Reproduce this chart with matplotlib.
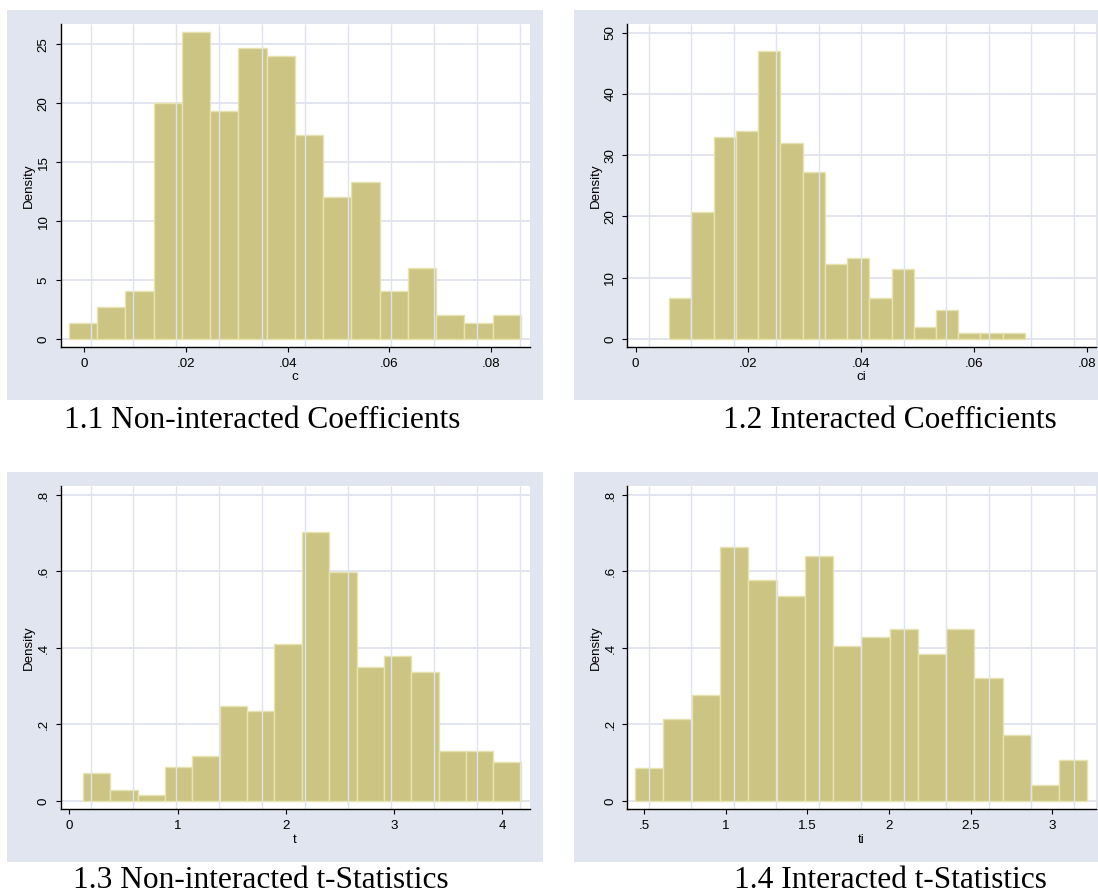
import matplotlib
matplotlib.use("Agg")
import matplotlib.pyplot as plt
from matplotlib.patches import Rectangle
import numpy as np

plt.rcParams['font.family'] = ['Liberation Sans', 'DejaVu Sans']

###  DATA  ###

# non-interacted coefficients (c)
c_lo, c_hi = -0.00303, 0.08586
c_dens = [1.36, 2.71, 4.07, 19.99, 26.02, 19.34, 24.66, 23.98,
          17.34, 12.02, 13.35, 4.07, 6.0, 2.04, 1.36, 2.04]

# interacted coefficients (ci)
ci_lo, ci_hi = 0.00596, 0.06899
ci_dens = [6.64, 20.78, 32.97, 33.9, 47.06, 31.94, 27.31, 12.24,
           13.17, 6.64, 11.37, 1.9, 4.73, 1.03, 1.03, 1.03]

# non-interacted t-statistics (t)
t_lo, t_hi = 0.1232, 4.172
t_dens = [0.0723, 0.0279, 0.0148, 0.088, 0.1176, 0.2484, 0.2344, 0.4096,
          0.7033, 0.5996, 0.3503, 0.38, 0.3364, 0.1307, 0.1307, 0.1028]

# interacted t-statistics (ti)
ti_lo, ti_hi = 0.4453, 3.2166
ti_dens = [0.0854, 0.2135, 0.278, 0.6632, 0.5778, 0.536, 0.6414, 0.4052,
           0.4288, 0.4488, 0.3852, 0.4488, 0.3207, 0.1717, 0.0427, 0.1063]

coef_xticks = [0, 0.02, 0.04, 0.06, 0.08]
coef_xlabels = ['0', '.02', '.04', '.06', '.08']
t_xticks = [0, 1, 2, 3, 4]
t_xlabels = ['0', '1', '2', '3', '4']
ti_xticks = [0.5, 1, 1.5, 2, 2.5, 3]
ti_xlabels = ['.5', '1', '1.5', '2', '2.5', '3']
dens_yticks = [0, 0.2, 0.4, 0.6, 0.8]
dens_ylabels = ['0', '.2', '.4', '.6', '.8']

captions = ['1.1 Non-interacted Coefficients', '1.2 Interacted Coefficients',
            '1.3 Non-interacted t-Statistics', '1.4 Interacted t-Statistics']

###  STYLE  ###

W, H = 1098, 894
BAR = '#cbc482'
BAR_EDGE = '#e7e3b0'
GRID = '#dfe3ee'
REGION = '#e1e5ef'
FS = 9.6

fig = plt.figure(figsize=(W / 100, H / 100), dpi=100)
fig.patch.set_facecolor('white')


def px_rect(x0, y0, x1, y1):
    return [x0 / W, 1 - y1 / H, (x1 - x0) / W, (y1 - y0) / H]


# grey graph regions behind each plot
for (x0, y0, x1, y1) in [(7, 10, 543, 400), (574, 10, 1098, 400),
                         (7, 472, 543, 862), (574, 472, 1098, 862)]:
    r = px_rect(x0, y0, x1, y1)
    fig.patches.append(Rectangle((r[0], r[1]), r[2], r[3], transform=fig.transFigure,
                                 facecolor=REGION, edgecolor='none', zorder=-1))

panels = [
    dict(box=(60.7, 24, 529.6, 346.7), lo=c_lo, hi=c_hi, dens=c_dens, xlab='c',
         xlim=(-0.00462, 0.0876), ylim=(-0.65, 26.72),
         xt=coef_xticks, xtl=coef_xlabels, yt=[0, 5, 10, 15, 20, 25],
         ytl=['0', '5', '10', '15', '20', '25'], vl=(0.0636, 0.98)),
    dict(box=(627.3, 24, 1096, 346.7), lo=ci_lo, hi=ci_hi, dens=ci_dens, xlab='ci',
         xlim=(-0.00146, 0.08158), ylim=(-1.25, 51.41),
         xt=coef_xticks, xtl=coef_xlabels, yt=[0, 10, 20, 30, 40, 50],
         ytl=['0', '10', '20', '30', '40', '50'], vl=(0.0454, 0.952)),
    dict(box=(60.7, 486, 529.6, 809.3), lo=t_lo, hi=t_hi, dens=t_dens, xlab='t',
         xlim=(-0.081, 4.253), ylim=(-0.0218, 0.8235),
         xt=t_xticks, xtl=t_xlabels, yt=dens_yticks, ytl=dens_ylabels,
         vl=(0.0636, 0.98)),
    dict(box=(627.3, 486, 1096, 809.3), lo=ti_lo, hi=ti_hi, dens=ti_dens, xlab='ti',
         xlim=(0.397, 3.269), ylim=(-0.0218, 0.8235),
         xt=ti_xticks, xtl=ti_xlabels, yt=dens_yticks, ytl=dens_ylabels,
         vl=(0.0454, 0.952)),
]

for p in panels:
    ax = fig.add_axes(px_rect(*p['box']))
    ax.set_zorder(1)
    ax.set_facecolor('white')
    edges = np.linspace(p['lo'], p['hi'], len(p['dens']) + 1)
    ax.bar(edges[:-1], p['dens'], width=np.diff(edges), align='edge',
           color=BAR, edgecolor=BAR_EDGE, linewidth=1.0, zorder=2)
    # faint vertical rules across the plot area
    ax.vlines(np.linspace(p['vl'][0], p['vl'][1], 11), 0, 1, transform=ax.transAxes,
              colors=GRID, linewidth=1.0, zorder=2.5)
    ax.set_xlim(*p['xlim'])
    ax.set_ylim(*p['ylim'])
    ax.set_xticks(p['xt'])
    ax.set_xticklabels(p['xtl'], fontsize=FS)
    ax.set_yticks(p['yt'])
    ax.set_yticklabels(p['ytl'], fontsize=FS, rotation=90, va='center')
    ax.yaxis.grid(True, color=GRID, linewidth=1.3)
    ax.set_axisbelow(True)
    for s in ['top', 'right']:
        ax.spines[s].set_visible(False)
    for s in ['left', 'bottom']:
        ax.spines[s].set_linewidth(1.0)
        ax.spines[s].set_color('black')
    ax.tick_params(direction='out', length=3.6, width=0.8, pad=4.3, color='black')
    ax.set_ylabel('Density', fontsize=FS, labelpad=2)
    ax.set_xlabel(p['xlab'], fontsize=FS, labelpad=1)

# captions under each graph
cap_pos = [(262, 428), (890, 428), (261, 888), (890, 888)]
for text, (x, y) in zip(captions, cap_pos):
    fig.text(x / W, 1 - y / H, text, ha='center', va='baseline',
             family=['Liberation Serif', 'DejaVu Serif'], fontsize=22.6)

fig.savefig('out.png', dpi=100, facecolor='white')
